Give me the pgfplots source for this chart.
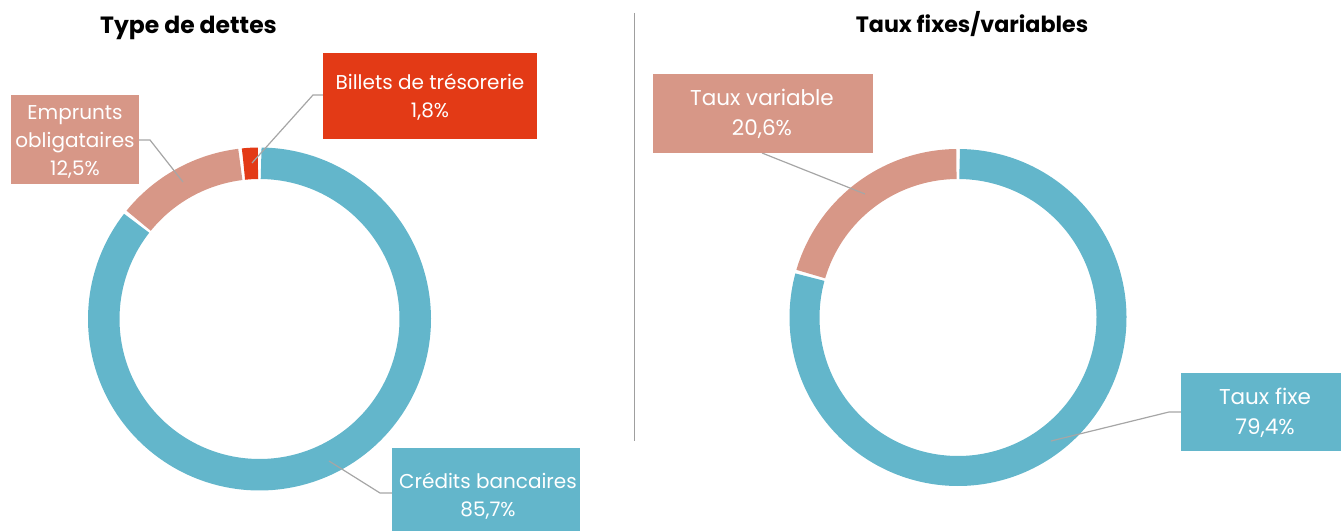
\documentclass[border=0pt]{standalone}
\usepackage{fontspec}
\setmainfont{Poppins}
\usepackage{pgfplots}
\pgfplotsset{compat=1.18}
\definecolor{cblue}{RGB}{99,182,203}
\definecolor{csalmon}{RGB}{215,151,135}
\definecolor{cred}{RGB}{227,58,22}
\definecolor{cline}{RGB}{166,166,166}
% data (percent)
\def\credits{85.7}
\def\emprunts{12.5}
\def\billets{1.8}
\def\fixe{79.4}
\def\variable{20.6}
\pgfmathsetmacro\aA{0}
\pgfmathsetmacro\aB{\credits*3.6}
\pgfmathsetmacro\aC{(\credits+\emprunts)*3.6}
\pgfmathsetmacro\aD{(\credits+\emprunts+\billets)*3.6}
\pgfmathsetmacro\bA{0}
\pgfmathsetmacro\bB{\fixe*3.6}
\pgfmathsetmacro\bC{(\fixe+\variable)*3.6}
\def\gap{0.6}
% #1 cx, #2 cy, #3 mid radius, #4 ring width, #5 start angle, #6 end angle, #7 colour
\newcommand{\seg}[7]{%
  \pgfmathsetmacro\sa{#5+\gap}\pgfmathsetmacro\sb{#6-\gap}%
  \edef\temp{\noexpand\addplot[draw=#7, line width=#4bp, domain=\sa:\sb, samples=180, variable=\noexpand\t, no markers]}%
  \temp ({#1+#3*sin(\t)}, {#2+#3*cos(\t)});
}
\newcommand{\labfont}{\fontsize{20bp}{28bp}\selectfont}
\newcommand{\labfontR}{\fontsize{21.5bp}{30.5bp}\selectfont}
\begin{document}
\begin{tikzpicture}
\begin{axis}[width=1341bp, height=531bp, scale only axis, xmin=0, xmax=1341, ymin=0, ymax=531, hide axis, clip=false]
\path (axis cs:0,0) rectangle (axis cs:1341,531);
% left donut
\seg{259.5}{212}{155.75}{31.5}{\aA}{\aB}{cblue}
\seg{259.5}{212}{155.75}{31.5}{\aB}{\aC}{csalmon}
\seg{259.5}{212}{155.75}{31.5}{\aC}{\aD}{cred}
% right donut
\seg{958}{213.5}{153.5}{30}{\bA}{\bB}{cblue}
\seg{958}{213.5}{153.5}{30}{\bB}{\bC}{csalmon}
% divider
\draw[color=gray!75, line width=1.3bp] (axis cs:634.5,518) -- (axis cs:634.5,90);
% titles
\node[anchor=base, font=\fontsize{23.5bp}{28bp}\selectfont\bfseries] at (axis cs:188.5,497) {Type de dettes};
\node[anchor=base, font=\fontsize{22.2bp}{28bp}\selectfont\bfseries] at (axis cs:972,498) {Taux fixes/variables};
% leader lines
\draw[cline, line width=1.2bp] (axis cs:323,436) -- (axis cs:313,436) -- (axis cs:252,368);
\draw[cline, line width=1.2bp] (axis cs:139,391) -- (axis cs:150,391) -- (axis cs:183,349);
\draw[cline, line width=1.2bp] (axis cs:329,70) -- (axis cs:380,38) -- (axis cs:392,38);
\draw[cline, line width=1.2bp] (axis cs:762,378) -- (axis cs:865,337);
\draw[cline, line width=1.2bp] (axis cs:1181,119) -- (axis cs:1169,119) -- (axis cs:1051,90);
% label boxes
\fill[cred] (axis cs:323,478) rectangle (axis cs:537,392);
\node[text=white, align=center, font=\labfont] at (axis cs:430,434) {Billets de trésorerie\\1,8\%};
\fill[csalmon] (axis cs:11,436) rectangle (axis cs:139,347);
\node[text=white, align=center, font=\labfont] at (axis cs:75,389.5) {Emprunts\\obligataires\\12,5\%};
\fill[cblue] (axis cs:392,83) rectangle (axis cs:580,0);
\node[text=white, align=center, font=\labfont] at (axis cs:488,35) {Crédits bancaires\\85,7\%};
\fill[csalmon] (axis cs:653,457) rectangle (axis cs:873,378);
\node[text=white, align=center, font=\labfontR] at (axis cs:762,417) {Taux variable\\20,6\%};
\fill[cblue] (axis cs:1181,158) rectangle (axis cs:1341,80);
\node[text=white, align=center, font=\labfontR] at (axis cs:1265,118) {Taux fixe\\79,4\%};
\end{axis}
\end{tikzpicture}
\end{document}
